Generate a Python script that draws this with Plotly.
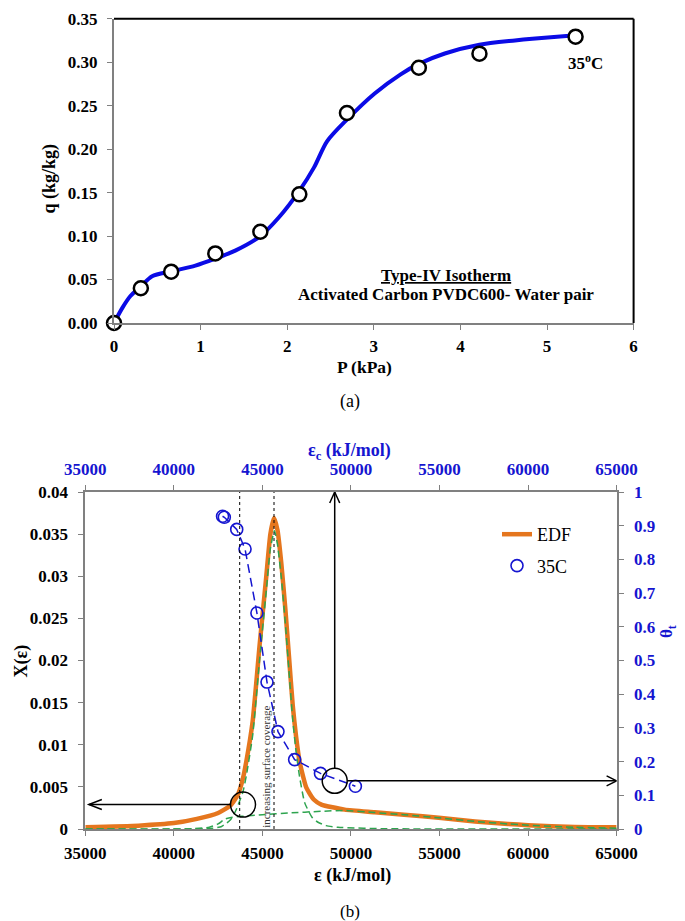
import plotly.graph_objects as go

# ---------------- Panel (a) data ----------------
P_meas = [0.0, 0.31, 0.66, 1.17, 1.69, 2.14, 2.69, 3.52, 4.22, 5.33]
q_meas = [0.0, 0.040, 0.059, 0.080, 0.105, 0.148, 0.2415, 0.2936, 0.3098, 0.3293]
P_fit = [0.0, 0.10, 0.19, 0.31, 0.44, 0.66, 0.94, 1.17, 1.40, 1.69, 1.90, 2.14,
         2.31, 2.46, 2.69, 3.01, 3.31, 3.52, 3.82, 4.22, 4.63, 4.83, 5.33]
q_fit = [0.0, 0.018, 0.031, 0.042, 0.0537, 0.0594, 0.066, 0.074, 0.0832, 0.100, 0.121, 0.152,
         0.179, 0.209, 0.234, 0.264, 0.286, 0.298, 0.310, 0.320, 0.325, 0.327, 0.331]
a_xticks = [0, 1, 2, 3, 4, 5, 6]

# ---------------- Panel (b) data ----------------
eps_edf = [35000, 38000, 40000, 41300, 42500, 43200, 43620, 43900, 44090, 44450, 44850, 45220,
           45450, 45655, 45850, 46070, 46300, 46500, 46720, 46900, 47100, 47480, 47900, 48330,
           49650, 51340, 53000, 55100, 57000, 58870, 60000, 62630, 65000]
X_edf = [0.0002, 0.0004, 0.0007, 0.0012, 0.0019, 0.0028, 0.0041, 0.0060, 0.0080, 0.0128, 0.0220, 0.0300,
         0.0350, 0.0369, 0.0355, 0.0315, 0.0260, 0.0205, 0.0145, 0.0110, 0.0080, 0.0049, 0.0035, 0.0029,
         0.0023, 0.0020, 0.0017, 0.0013, 0.0009, 0.0006, 0.00045, 0.00024, 0.0002]

eps_g1 = [35000, 42000, 42700, 43200, 43500, 43900, 44090, 44450, 44850, 45220, 45450, 45680,
          45850, 46070, 46300, 46500, 46720, 46900, 47100, 47390, 47800, 48140, 48600, 49270,
          52000, 65000]
X_g1 = [0.0, 0.00005, 0.0003, 0.0011, 0.0022, 0.0044, 0.0063, 0.0111, 0.0203, 0.0283, 0.0333, 0.0354,
        0.0338, 0.0298, 0.0243, 0.0188, 0.0128, 0.0092, 0.0062, 0.0031, 0.0014, 0.0008, 0.0004, 0.0002,
        0.00003, 0.0]

eps_g2 = [35000, 41000, 42000, 42500, 42900, 43300, 43800, 45000, 46500, 48300, 49650, 51340,
          53000, 55100, 57000, 58870, 60000, 62630, 65000]
X_g2 = [0.0, 0.00003, 0.0002, 0.0006, 0.0012, 0.0014, 0.0015, 0.0017, 0.0019, 0.0021, 0.0022, 0.00195,
        0.0017, 0.0013, 0.0009, 0.0006, 0.00045, 0.0002, 0.0001]

eps_c = [42750, 42850, 43550, 44020, 44690, 45260, 45880, 46820, 48280, 50250]
theta_t = [0.928, 0.925, 0.889, 0.831, 0.641, 0.436, 0.289, 0.206, 0.165, 0.127]

eps_lines = [43718, 45655]          # vertical dashed guide lines
circ1 = (43905, 0.0029)             # (eps, X) circle on EDF
circ2 = (49083, 0.143)              # (eps_c, theta) circle on 35C
arrow_left_tip = 35200

# ---------------- layout geometry (pixels) ----------------
W, H = 685, 921
A_L, A_R, A_T, A_B = 106, 625.6, 10.7, 315
B_L, B_R, B_T, B_B = 77.3, 608.6, 484, 821

def px(x):
    return x / W

def py(y):
    return 1 - y / H

FONT = "Liberation Serif"
BLUE = "#1515D0"
GRAY = "#808080"
ORANGE = "#E5761E"
GREEN = "#2EA44F"

fig = go.Figure()

# Panel (a)
fig.add_trace(go.Scatter(x=P_fit, y=q_fit, mode="lines", xaxis="x", yaxis="y",
                         line=dict(color="#0B0BE6", width=4, shape="spline", smoothing=0.8),
                         showlegend=False, hoverinfo="skip"))
fig.add_trace(go.Scatter(x=P_meas, y=q_meas, mode="markers", xaxis="x", yaxis="y",
                         marker=dict(symbol="circle", size=14, color="white",
                                     line=dict(color="black", width=2.5)),
                         cliponaxis=False, showlegend=False))

# Panel (b)
fig.add_trace(go.Scatter(x=eps_edf, y=X_edf, mode="lines", xaxis="x3", yaxis="y3", name="EDF",
                         line=dict(color=ORANGE, width=4.5, shape="spline", smoothing=0.5),
                         legendgroup="a"))
fig.add_trace(go.Scatter(x=eps_g1, y=X_g1, mode="lines", xaxis="x3", yaxis="y3",
                         line=dict(color=GREEN, width=1.5, dash="7px,4px", shape="spline", smoothing=0.5),
                         showlegend=False))
fig.add_trace(go.Scatter(x=eps_g2, y=X_g2, mode="lines", xaxis="x3", yaxis="y3",
                         line=dict(color=GREEN, width=1.5, dash="7px,4px", shape="spline", smoothing=0.5),
                         showlegend=False))
fig.add_trace(go.Scatter(x=eps_c, y=theta_t, mode="lines", xaxis="x4", yaxis="y4",
                         line=dict(color=BLUE, width=1.5, dash="9px,5px"), showlegend=False))
fig.add_trace(go.Scatter(x=eps_c, y=theta_t, mode="markers", xaxis="x4", yaxis="y4", name="35C",
                         marker=dict(symbol="circle-open", size=12, color=BLUE, line=dict(width=1.6)),
                         legendgroup="b", cliponaxis=False))

tickfont = dict(family=FONT, size=17, color="black", weight="bold")
bluetick = dict(family=FONT, size=17, color=BLUE, weight="bold")
axis_common = dict(showgrid=False, zeroline=False, ticks="outside", ticklen=5, tickwidth=1,
                   tickcolor=GRAY, showline=True, linecolor=GRAY, linewidth=2, automargin=False)

fig.update_layout(
    width=W, height=H, autosize=False,
    margin=dict(l=0, r=0, t=0, b=0, autoexpand=False),
    paper_bgcolor="white", plot_bgcolor="white",
    xaxis=dict(domain=[px(A_L), px(A_R)], anchor="y", range=[0, 6], tickvals=a_xticks,
               tickfont=tickfont, ticklabelstandoff=2, **axis_common),
    yaxis=dict(domain=[py(A_B), py(A_T)], anchor="x", range=[0, 0.35], dtick=0.05, tickformat=".2f",
               tickfont=tickfont, ticklabelstandoff=6, **axis_common),
    xaxis3=dict(domain=[px(B_L), px(B_R)], anchor="y3", range=[35000, 65000], dtick=5000, tickformat="d",
                tickfont=tickfont, ticklabelstandoff=3, **axis_common),
    yaxis3=dict(domain=[py(B_B), py(B_T)], anchor="x3", range=[0, 0.04], dtick=0.005,
                tickfont=tickfont, ticklabelstandoff=7, **axis_common),
    xaxis4=dict(overlaying="x3", side="top", anchor="y3", range=[35000, 65000], dtick=5000, tickformat="d",
                tickfont=bluetick, ticklabelstandoff=3, **axis_common),
    yaxis4=dict(overlaying="y3", side="right", anchor="x3", range=[0, 1], dtick=0.1,
                tickfont=bluetick, ticklabelstandoff=7, **axis_common),
    legend=dict(x=px(489), y=py(508), xanchor="left", yanchor="top", bgcolor="rgba(0,0,0,0)",
                font=dict(family=FONT, size=18, color="black"), tracegroupgap=5,
                traceorder="grouped", itemwidth=30),
)

shapes = []
# black top/right frame of panel (a)
shapes.append(dict(type="line", xref="x domain", yref="y domain", x0=0, x1=1, y0=1, y1=1,
                   line=dict(color="black", width=2)))
shapes.append(dict(type="line", xref="x domain", yref="y domain", x0=1, x1=1, y0=0, y1=1,
                   line=dict(color="black", width=2)))
# vertical dashed guide lines
for e in eps_lines:
    shapes.append(dict(type="line", xref="x3", yref="y3", x0=e, x1=e, y0=0, y1=0.04,
                       line=dict(color="black", width=1, dash="3px,3px")))

R = 12.5
eps_per_px = 30000 / (B_R - B_L)
th_per_px = 1 / (B_B - B_T)
# circles
shapes.append(dict(type="circle", xref="x3", yref="y3", xsizemode="pixel", ysizemode="pixel",
                   xanchor=circ1[0], yanchor=circ1[1], x0=-R, x1=R, y0=-R, y1=R,
                   line=dict(color="black", width=1.5)))
shapes.append(dict(type="circle", xref="x4", yref="y4", xsizemode="pixel", ysizemode="pixel",
                   xanchor=circ2[0], yanchor=circ2[1], x0=-R, x1=R, y0=-R, y1=R,
                   line=dict(color="black", width=1.5)))
# arrows
shapes.append(dict(type="line", xref="x3", yref="y3", x0=circ1[0] - R * eps_per_px, x1=arrow_left_tip,
                   y0=circ1[1], y1=circ1[1], line=dict(color="black", width=1.5)))
shapes.append(dict(type="path", xref="x3", yref="y3", xsizemode="pixel", ysizemode="pixel",
                   xanchor=arrow_left_tip, yanchor=circ1[1], path="M 13,5 L 0,0 L 13,-5",
                   line=dict(color="black", width=1.5)))
shapes.append(dict(type="line", xref="x4", yref="y4", x0=circ2[0], x1=circ2[0],
                   y0=circ2[1] + R * th_per_px, y1=1.0, line=dict(color="black", width=1.5)))
shapes.append(dict(type="path", xref="x4", yref="y4", xsizemode="pixel", ysizemode="pixel",
                   xanchor=circ2[0], yanchor=1.0, path="M -5,-11 L 0,0 L 5,-11",
                   line=dict(color="black", width=1.5)))
shapes.append(dict(type="line", xref="x4", yref="y4", x0=circ2[0] + R * eps_per_px, x1=65000,
                   y0=circ2[1], y1=circ2[1], line=dict(color="black", width=1.5)))
shapes.append(dict(type="path", xref="x4", yref="y4", xsizemode="pixel", ysizemode="pixel",
                   xanchor=65000, yanchor=circ2[1], path="M -10,5 L 0,0 L -10,-5",
                   line=dict(color="black", width=1.5)))
fig.update_layout(shapes=shapes)

def ann(text, x, y, size=18, color="black", bold=True, angle=0):
    return dict(text=text, x=px(x), y=py(y), xref="paper", yref="paper", showarrow=False,
                xanchor="center", yanchor="middle", textangle=angle, borderpad=0,
                font=dict(family=FONT, size=size, color=color, weight="bold" if bold else "normal"))

annotations = [
    ann("q (kg/kg)", 41.5, 171, angle=-90),
    ann("P (kPa)", 356.5, 359, size=17.5),
    ann("<u>Type-IV Isotherm</u>", 438, 267, size=17),
    ann("Activated Carbon PVDC600- Water pair", 438, 286, size=17),
    ann("35<sup>o</sup>C", 577, 54, size=17),
    ann("(a)", 341.6, 394, bold=False),
    ann("ε<sub>c</sub> (kJ/mol)", 341.3, 443, color=BLUE),
    ann("X(ε)", 12.5, 653, angle=-90),
    ann("θ<sub>t</sub>", 660, 624, color=BLUE, angle=-90, size=17),
    ann("ε (kJ/mol)", 344, 867),
    ann("(b)", 341.6, 903, bold=False, size=17),
]
annotations.append(dict(text="increasing surface coverage", x=45190, y=0.00736, xref="x3", yref="y3",
                        showarrow=False, textangle=-90, xanchor="center", yanchor="middle",
                        font=dict(family=FONT, size=11, color="#333333")))
fig.update_layout(annotations=annotations)

fig.write_html("out.html")
